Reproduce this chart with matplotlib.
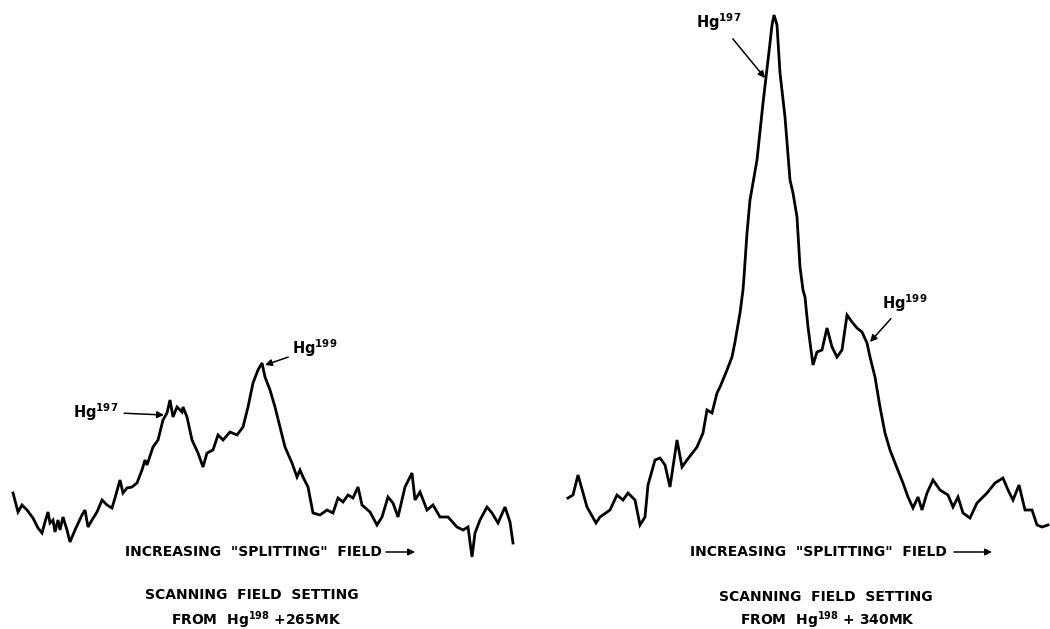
import matplotlib.pyplot as plt

# left scan (Hg198 + 265 MK): sweep position, signal height
left_x = [13, 18, 22, 27, 33, 38, 42, 45, 48, 50, 53, 55, 58, 60, 63, 67, 70, 75, 82, 85,
          88, 92, 97, 102, 107, 112, 115, 120, 123, 127, 132, 137, 142, 145, 147, 153, 158, 163, 167, 170,
          173, 177, 182, 183, 187, 192, 198, 203, 207, 213, 218, 223, 230, 237, 243, 248, 253, 258, 262, 265,
          270, 275, 280, 285, 292, 297, 300, 303, 308, 313, 320, 327, 333, 338, 343, 348, 353, 358, 362, 370,
          377, 382, 388, 393, 398, 405, 412, 415, 420, 427, 433, 440, 448, 457, 463, 468, 472, 475, 480, 487,
          492, 498, 505, 510, 513]
left_sig = [136, 117, 124, 119, 111, 101, 96, 107, 117, 106, 109, 97, 109, 99, 112, 99, 87, 99, 114, 119,
            102, 109, 117, 129, 124, 121, 131, 149, 136, 141, 142, 146, 159, 169, 164, 182, 189, 209, 216, 229,
            212, 222, 217, 222, 212, 189, 176, 162, 176, 179, 194, 189, 197, 194, 202, 222, 246, 259, 266, 252,
            239, 222, 202, 182, 166, 152, 159, 152, 142, 116, 114, 119, 116, 131, 127, 134, 131, 142, 124, 117,
            104, 112, 132, 126, 112, 142, 156, 129, 137, 119, 124, 112, 112, 102, 99, 102, 72, 96, 109, 122,
            116, 106, 122, 107, 86]

# right scan (Hg198 + 340 MK)
right_x = [568, 573, 578, 587, 596, 600, 610, 617, 623, 628, 635, 640, 645, 648, 655, 660, 665, 670, 677, 682,
           687, 697, 703, 707, 712, 717, 720, 727, 732, 735, 740, 743, 744, 747, 750, 757, 763, 770, 772, 774,
           777, 780, 785, 790, 793, 797, 800, 803, 805, 808, 813, 817, 822, 827, 832, 837, 842, 847, 852, 857,
           862, 867, 870, 875, 880, 885, 890, 897, 903, 908, 913, 918, 922, 927, 933, 940, 948, 953, 958, 963,
           970, 977, 987, 995, 1003, 1008, 1013, 1019, 1025, 1032, 1037, 1042, 1048]
right_sig = [131, 134, 154, 122, 106, 112, 119, 134, 129, 136, 129, 104, 112, 144, 169, 171, 164, 142, 189, 162,
             169, 182, 196, 219, 216, 236, 242, 259, 272, 287, 316, 339, 352, 396, 429, 469, 526, 586, 604, 614,
             604, 556, 512, 449, 436, 412, 362, 339, 332, 302, 264, 277, 279, 301, 282, 272, 279, 314, 307, 301,
             297, 286, 272, 252, 222, 196, 179, 161, 146, 132, 121, 132, 119, 136, 149, 139, 134, 122, 132, 116,
             111, 126, 136, 146, 151, 139, 129, 144, 119, 119, 104, 102, 104]

fig = plt.figure(figsize=(10.5, 6.29), dpi=100)
ax = fig.add_axes([0, 0, 1, 1])
ax.set_xlim(0, 1050)
ax.set_ylim(0, 629)
ax.axis('off')

ax.plot(left_x, left_sig, color='black', linewidth=2.0, solid_joinstyle='miter')
ax.plot(right_x, right_sig, color='black', linewidth=2.0, solid_joinstyle='miter')

fnt = dict(family='DejaVu Sans', fontsize=10, fontweight='bold', color='black')
lab = dict(family='DejaVu Sans', fontsize=10.5, fontweight='bold', color='black')
arr = dict(arrowstyle='-|>', color='black', lw=1.1, mutation_scale=10)

# peak labels
ax.annotate(r'Hg$^{\mathregular{197}}$', xy=(164, 214), xytext=(96, 217), ha='center', va='center',
            arrowprops=dict(arr, shrinkA=2, shrinkB=0), **lab)
ax.annotate(r'Hg$^{\mathregular{199}}$', xy=(265, 264), xytext=(315, 281), ha='center', va='center',
            arrowprops=dict(arr, shrinkA=1, shrinkB=0), **lab)
ax.annotate(r'Hg$^{\mathregular{197}}$', xy=(765, 551), xytext=(719, 607), ha='center', va='center',
            arrowprops=dict(arr, shrinkA=3, shrinkB=0), **lab)
ax.annotate(r'Hg$^{\mathregular{199}}$', xy=(870, 287), xytext=(905, 326), ha='center', va='center',
            arrowprops=dict(arr, shrinkA=2, shrinkB=0), **lab)

# axis captions
for x0, x1, ln in [(125, 415, 29), (690, 992, 38)]:
    ax.text(x0, 77, 'INCREASING  "SPLITTING"  FIELD', ha='left', va='center', **fnt)
    ax.annotate('', xy=(x1, 77), xytext=(x1 - ln, 77), arrowprops=dict(arr, shrinkA=0, shrinkB=0))

ax.text(252, 34, 'SCANNING  FIELD  SETTING', ha='center', va='center', **fnt)
ax.text(256, 9, r'FROM  Hg$^{\mathregular{198}}$ +265MK', ha='center', va='center', **fnt)
ax.text(826, 32, 'SCANNING  FIELD  SETTING', ha='center', va='center', **fnt)
ax.text(828, 9, r'FROM  Hg$^{\mathregular{198}}$ + 340MK', ha='center', va='center', **fnt)

fig.savefig('out.png', dpi=100, facecolor='white')
